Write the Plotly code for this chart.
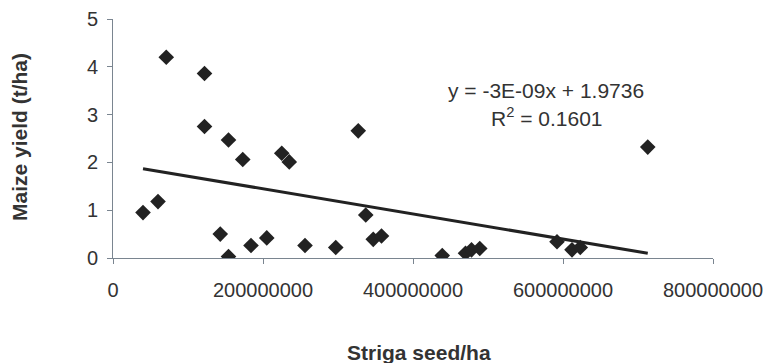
import plotly.graph_objects as go

striga_seed = [40e6, 60e6, 71e6, 122e6, 122e6, 143e6, 154e6, 154e6, 173e6, 184e6,
               205e6, 225e6, 235e6, 256e6, 297e6, 327e6, 337e6, 347e6, 358e6,
               439e6, 470e6, 478e6, 489e6, 592e6, 612e6, 623e6, 713e6]
maize_yield = [0.95, 1.18, 4.2, 3.86, 2.75, 0.5, 2.47, 0.03, 2.06, 0.26,
               0.42, 2.19, 2.01, 0.26, 0.22, 2.66, 0.9, 0.39, 0.46,
               0.05, 0.1, 0.17, 0.2, 0.34, 0.17, 0.22, 2.32]

trend_slope = -2.63e-9
trend_intercept = 1.9736
trend_x = [min(striga_seed), max(striga_seed)]
trend_y = [trend_intercept + trend_slope * v for v in trend_x]

x_ticks = [0, 200000000, 400000000, 600000000, 800000000]
x_tick_labels = ["0", "200000000", "400000000", "600000000", "800000000"]
y_ticks = [0, 1, 2, 3, 4, 5]

text_col = "#333333"
axis_col = "#7a8590"
font_fam = "Arial, Liberation Sans, sans-serif"

fig = go.Figure()
fig.add_trace(go.Scatter(x=trend_x, y=trend_y, mode="lines",
                         line=dict(color="#222222", width=3), hoverinfo="skip"))
fig.add_trace(go.Scatter(x=striga_seed, y=maize_yield, mode="markers",
                         marker=dict(symbol="diamond", size=12, color="#222222")))

fig.update_layout(
    width=767, height=363,
    margin=dict(l=113, r=54, t=19, b=105, autoexpand=False),
    paper_bgcolor="white", plot_bgcolor="white",
    showlegend=False,
    font=dict(family=font_fam, color=text_col, size=17),
    xaxis=dict(range=[0, 800000000], tickvals=x_ticks, ticktext=x_tick_labels,
               automargin=False,
               showgrid=False, zeroline=False, showline=True, linecolor=axis_col,
               linewidth=1, ticks="outside", ticklen=5, tickcolor=axis_col,
               ticklabelstandoff=9, tickfont=dict(size=20, color=text_col)),
    yaxis=dict(range=[0, 5], tickvals=y_ticks, showgrid=False, zeroline=False,
               automargin=False,
               showline=True, linecolor=axis_col, linewidth=1, ticks="outside",
               ticklen=5, tickcolor=axis_col, ticklabelstandoff=5,
               tickfont=dict(size=20, color=text_col)),
    annotations=[
        dict(text="<b>Striga seed/ha</b>", x=419, y=352, showarrow=False,
             font=dict(size=21, color=text_col)),
        dict(text="<b>Maize yield (t/ha)</b>", x=19, y=137, textangle=-90,
             showarrow=False, font=dict(size=21, color=text_col)),
        dict(text="y = -3E-09x + 1.9736", x=546, y=90, showarrow=False,
             font=dict(size=21, color=text_col)),
        dict(text="R<sup>2</sup> = 0.1601", x=547, y=117, showarrow=False,
             font=dict(size=21, color=text_col)),
    ],
)

# convert pixel-positioned annotations to paper coordinates
pw, ph = 767 - 113 - 54, 363 - 19 - 105
for a in fig.layout.annotations:
    px, py = a.x, a.y
    a.xref = "paper"
    a.yref = "paper"
    a.x = (px - 113) / pw
    a.y = (363 - 105 - py) / ph
    a.xanchor = "center"
    a.yanchor = "middle"

fig.write_html("out.html", config={"displayModeBar": False},
               post_script="document.body.style.margin='0';document.body.style.overflow='hidden';")
